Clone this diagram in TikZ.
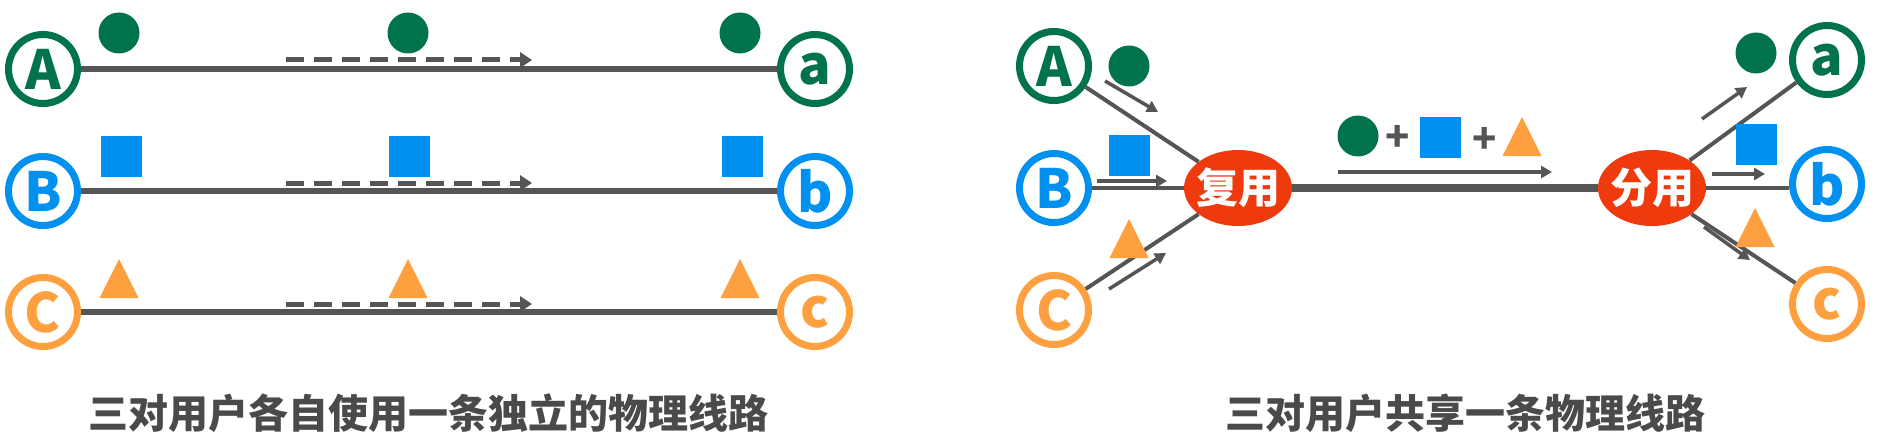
\documentclass[tikz,border=0pt]{standalone}
\usepackage{fontspec}
\newfontfamily\cjk{Noto Sans CJK SC}
\usetikzlibrary{arrows.meta,shapes.geometric}
\definecolor{cgreen}{HTML}{00734E}
\definecolor{cblue}{HTML}{0090F0}
\definecolor{corange}{HTML}{FFA040}
\definecolor{cred}{HTML}{EE3A0C}
\definecolor{cgray}{HTML}{555555}
\definecolor{ctitle}{HTML}{4A4A4A}
\begin{document}
\begin{tikzpicture}[x=1pt,y=-1pt,
  user/.style={circle,draw=#1,line width=7pt,minimum size=69pt,inner sep=0pt,fill=white,text=#1,
    font=\cjk\bfseries\fontsize{54}{54}\selectfont},
  wire/.style={draw=cgray,line width=6pt},
  thinwire/.style={draw=cgray,line width=4pt},
  trunk/.style={draw=cgray,line width=8pt},
  flow/.style={draw=cgray,line width=5pt,dash pattern=on 18pt off 10pt,-{Triangle[length=12pt,width=15pt]}},
  sflow/.style={draw=cgray,line width=3.5pt,-{Triangle[length=11pt,width=12pt]}},
  dot/.style={circle,fill=cgreen,minimum size=41pt,inner sep=0pt},
  sq/.style={rectangle,fill=cblue,minimum size=41pt,inner sep=0pt},
  tri/.pic={\fill[corange] (-19.5,0) -- (19.5,0) -- (0,-39) -- cycle;},
  oval/.style={ellipse,fill=cred,minimum width=108pt,minimum height=76pt,inner sep=0pt,text=white,
    font=\cjk\bfseries\fontsize{42}{42}\selectfont},
  title/.style={text=ctitle,font=\cjk\bfseries\fontsize{40}{40}\selectfont},
  plus/.style={text=cgray,font=\cjk\bfseries\fontsize{40}{40}\selectfont}
]
\useasboundingbox (0,0) rectangle (1878,444);

% ---------- left panel ----------
\node[user=cgreen]  (A) at (43,69)  {A};
\node[user=cblue]   (B) at (43,191) {B};
\node[user=corange] (C) at (43,312) {C};
\node[user=cgreen]  (a) at (815,69)  {a};
\node[user=cblue]   (b) at (815,191) {b};
\node[user=corange] (c) at (815,312) {c};
\draw[wire] (A) -- (a);
\draw[wire] (B) -- (b);
\draw[wire] (C) -- (c);

\coordinate (fa1) at (286,60);  \coordinate (fa2) at (532,60);
\coordinate (fb1) at (286,183); \coordinate (fb2) at (532,183);
\coordinate (fc1) at (286,304); \coordinate (fc2) at (532,304);
\draw[flow] (fa1) -- (fa2);
\draw[flow] (fb1) -- (fb2);
\draw[flow] (fc1) -- (fc2);

\node[dot] (d1) at (119,33) {};
\node[dot] (d2) at (408,33) {};
\node[dot] (d3) at (740,33) {};
\node[sq] (s1) at (121,156) {};
\node[sq] (s2) at (409,156) {};
\node[sq] (s3) at (742,156) {};
\pic at (119,298) {tri};
\pic at (408,298) {tri};
\pic at (740,298) {tri};

\node[title] (t1) at (428,413) {三对用户各自使用一条独立的物理线路};

% ---------- right panel ----------
\node[user=cgreen]  (A2) at (1054,66)  {A};
\node[user=cblue]   (B2) at (1054,188) {B};
\node[user=corange] (C2) at (1054,310) {C};
\node[user=cgreen]  (a2) at (1827,60)  {a};
\node[user=cblue]   (b2) at (1827,184) {b};
\node[user=corange] (c2) at (1827,304) {c};
\node[oval] (mux)   at (1238,188) {\makebox[0pt][c]{复用}};
\node[oval] (demux) at (1652,188) {\makebox[0pt][c]{分用}};

\draw[thinwire] (A2) -- (mux);
\draw[thinwire] (B2) -- (mux);
\draw[thinwire] (C2) -- (mux);
\draw[trunk] (mux) -- (demux);
\draw[thinwire] (demux) -- (a2);
\draw[thinwire] (demux.east) -- (demux.east -| b2.west);
\draw[thinwire] (demux) -- (c2);

\coordinate (ra1) at (1105,81);  \coordinate (ra2) at (1158,112);
\coordinate (rb1) at (1097,181); \coordinate (rb2) at (1167,181);
\coordinate (rc1) at (1109,289); \coordinate (rc2) at (1166,253);
\coordinate (rm1) at (1338,172); \coordinate (rm2) at (1552,172);
\coordinate (oa1) at (1702,119); \coordinate (oa2) at (1747,87);
\coordinate (ob1) at (1712,174); \coordinate (ob2) at (1765,174);
\coordinate (oc1) at (1704,227); \coordinate (oc2) at (1750,260);
\draw[sflow] (ra1) -- (ra2);
\draw[sflow] (rb1) -- (rb2);
\draw[sflow] (rc1) -- (rc2);
\draw[sflow] (rm1) -- (rm2);
\draw[sflow] (oa1) -- (oa2);
\draw[sflow] (ob1) -- (ob2);
\draw[sflow] (oc1) -- (oc2);

\node[dot] (d4) at (1129,66) {};
\node[sq]  (s4) at (1129,155) {};
\pic at (1129,258) {tri};
\node[dot] (d5) at (1358,136) {};
\node[plus] (p1) at (1398,138) {+};
\node[sq]  (s5) at (1440,137) {};
\node[plus] (p2) at (1485,140) {+};
\pic at (1522,156) {tri};
\node[dot] (d6) at (1756,53) {};
\node[sq]  (s6) at (1756,144) {};
\pic at (1755,247) {tri};

\node[title] (t2) at (1465,413) {三对用户共享一条物理线路};
\end{tikzpicture}
\end{document}
